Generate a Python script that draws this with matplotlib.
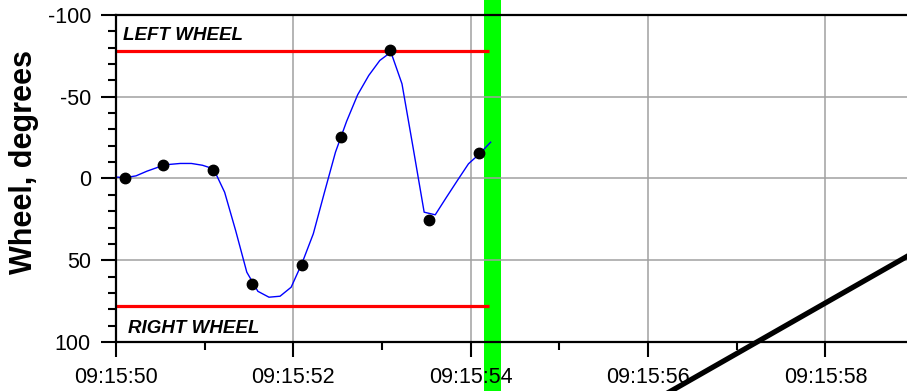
import matplotlib
matplotlib.use("Agg")
import matplotlib.pyplot as plt
from matplotlib.ticker import MultipleLocator, FixedLocator

plt.rcParams['font.family'] = ['Liberation Sans', 'DejaVu Sans']

# Time in seconds after 09:15:50
line_t = [-0.025, 0.100, 0.225, 0.350, 0.475, 0.600, 0.725, 0.850, 0.975, 1.100,
          1.225, 1.350, 1.475, 1.600, 1.725, 1.850, 1.975, 2.100, 2.225, 2.350,
          2.475, 2.600, 2.725, 2.850, 2.975, 3.100, 3.225, 3.350, 3.475, 3.600,
          3.725, 3.850, 3.975, 4.100, 4.225]
line_deg = [-1.0, -0.5, -1.6, -4.5, -6.9, -8.6, -9.2, -9.2, -8.1, -5.9,
            8.4, 32.0, 57.3, 69.0, 72.6, 72.0, 66.5, 51.5, 33.8, 8.6,
            -16.1, -34.9, -51.2, -63.0, -72.2, -77.3, -57.9, -19.0, 20.6, 22.2,
            11.6, 1.2, -9.0, -15.1, -22.2]

dot_t = [0.10, 0.533, 1.097, 1.53, 2.10, 2.533, 3.089, 3.53, 4.096]
dot_deg = [-0.4, -8.4, -5.5, 64.4, 52.6, -25.3, -78.3, 25.1, -15.7]

limit_left = -78
limit_right = 78
limit_end_t = 4.205

event_span = (4.152, 4.337)

black_t = [6.0, 9.2]
black_deg = [138.0, 39.0]

xtick_pos = [0, 2, 4, 6, 8]
xtick_labels = ["09:15:50", "09:15:52", "09:15:54", "09:15:56", "09:15:58"]
ytick_pos = [-100, -50, 0, 50, 100]
ytick_labels = ["-100", "-50", "0", "50", "100"]

fig = plt.figure(figsize=(9.07, 3.91), dpi=100)
ax = fig.add_axes([116/907, 1-342/391, 1-116/907, (342-15)/391])

ax.set_xlim(0, 8.92)
ax.set_ylim(100, -100)

ax.axvspan(event_span[0], event_span[1], ymin=-0.2, ymax=1.1, color='#00ff00',
           clip_on=False, zorder=0, lw=0)

ax.grid(True, which='major', color='#a0a0a0', lw=1.1, zorder=1)
ax.set_axisbelow(False)

ax.plot([0, limit_end_t], [limit_left, limit_left], color='#ff0000', lw=2.3, zorder=3,
        solid_capstyle='butt')
ax.plot([0, limit_end_t], [limit_right, limit_right], color='#ff0000', lw=2.3, zorder=3,
        solid_capstyle='butt')

ax.plot(line_t, line_deg, color='#0000ff', lw=1.0, zorder=4)
ax.plot(dot_t, dot_deg, 'o', color='black', ms=7.5, zorder=5)

ax.plot(black_t, black_deg, color='black', lw=3.8, clip_on=False, zorder=10)

ax.text(0.08, -84.5, "LEFT WHEEL", fontsize=13.5, fontweight='bold', style='italic',
        ha='left', va='baseline', zorder=6)
ax.text(0.135, 94.5, "RIGHT WHEEL", fontsize=13.5, fontweight='bold', style='italic',
        ha='left', va='baseline', zorder=6)

ax.xaxis.set_major_locator(FixedLocator(xtick_pos))
ax.set_xticklabels(xtick_labels)
ax.xaxis.set_minor_locator(MultipleLocator(1))
ax.yaxis.set_major_locator(FixedLocator(ytick_pos))
ax.set_yticklabels(ytick_labels)
ax.yaxis.set_minor_locator(MultipleLocator(10))

ax.tick_params(which='major', direction='out', length=11, width=1.5, labelsize=15.5,
               pad=7, colors='black')
ax.tick_params(which='minor', direction='out', length=6, width=1.5)
ax.tick_params(axis='x', which='both', top=False)
ax.tick_params(axis='y', which='both', right=False)

for s in ['top', 'bottom', 'left']:
    ax.spines[s].set_linewidth(1.6)
    ax.spines[s].set_zorder(8)
ax.spines['right'].set_visible(False)

fig.text(0.026, 1-161.5/391, "Wheel, degrees", rotation=90, fontsize=22,
         fontweight='bold', ha='center', va='center')

fig.savefig("out.png", dpi=100)
